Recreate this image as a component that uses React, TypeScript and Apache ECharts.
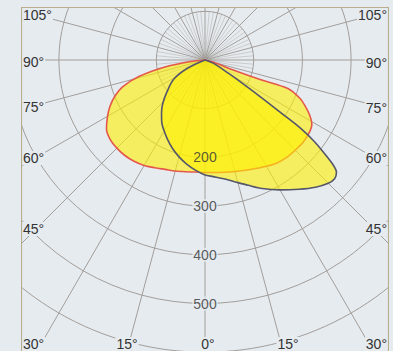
import React, { useEffect, useRef } from 'react';
import * as echarts from 'echarts';

// Curve 1 (red outline): angle in degrees from nadir (right positive), intensity in cd
const redAngles = [-90, -84, -80, -76, -72, -68, -64, -60, -55, -50, -45, -40, -35, -30, -25, -20, -15, -10, -5, 0, 5, 10, 15, 20, 25, 30, 35, 40, 45, 50, 55, 59, 62, 65, 68, 71, 70.5, 70.5, 76, 90];
const redValues = [0, 30, 85, 140, 178, 200, 217, 231, 247, 254, 256, 256, 254, 250, 244, 239, 236, 233, 231, 231, 232, 234, 237, 241, 246, 252, 258, 261, 262, 263, 261, 256, 244, 228, 210, 180, 120, 60, 17, 0];

// Curve 2 (dark outline)
const darkAngles = [-70, -65, -58.5, -50, -44, -39.6, -35, -30, -25, -20, -15, -10, -5, 0, 4, 9, 14, 19, 24, 30, 36, 41, 45, 47.5, 49.5, 50.8, 52, 53.3, 54.5, 55.2, 56.3, 57.8, 60.5, 68, 90];
const darkValues = [0, 39, 75, 102, 125, 140, 155, 168, 181, 194, 206, 217, 227, 236, 240, 247, 258, 272, 289, 308, 328, 346, 358, 361, 355, 338, 310, 280, 240, 190, 140, 95, 55, 20, 0];

const radiusLabelValues = [200, 300, 400, 500];
const leftAngleLabels = ['105°', '90°', '75°', '60°', '45°', '30°'];
const bottomAngleLabels = ['15°', '0°', '15°', '30°'];
const rightAngleLabels = ['105°', '90°', '75°', '60°', '45°'];

const BG = '#e6ebf0';
const GRID = '#a29e9a';
const FRAME = '#b8ae8e';
const TEXT = '#333333';
const FONT = '14px "Liberation Sans", Arial, sans-serif';

// layout (chart-relative pixel positions for angle labels)
const leftLabelY = [8, 55, 100, 151, 222, 337];
const bottomLabelX = [106, 187, 267, 367];
const bottomLabelAlign = ['center', 'center', 'center', 'right'];
const rightLabelY = [8, 56, 101, 151, 222];

export default function App() {
  const ref = useRef<HTMLDivElement>(null);
  useEffect(() => {
    if (!ref.current) return;
    const chart = echarts.init(ref.current, undefined, { renderer: 'svg' });

    const minorRays: number[][] = [];
    for (let a = -175; a < 180; a += 5) {
      if (a % 15 !== 0) minorRays.push([100, a]);
    }

    const labelText = (text: string, x: number, y: number, align: string) => ({
      type: 'text',
      x,
      y,
      z: 100,
      style: {
        text,
        fill: TEXT,
        font: FONT,
        align,
        verticalAlign: 'middle',
        backgroundColor: BG,
        padding: [0, 1],
      },
    });

    const graphics: any[] = [];
    leftAngleLabels.forEach((t, i) => graphics.push(labelText(t, 1, leftLabelY[i], 'left')));
    bottomAngleLabels.forEach((t, i) => graphics.push(labelText(t, bottomLabelX[i], 337, bottomLabelAlign[i])));
    rightAngleLabels.forEach((t, i) => graphics.push(labelText(t, 367, rightLabelY[i], 'right')));
    graphics.push({
      type: 'rect',
      z: 101,
      shape: { x: 0.5, y: 0.5, width: 367, height: 400 },
      style: { fill: 'none', stroke: FRAME, lineWidth: 1.2 },
    });

    const yellow = 'rgba(255,240,0,0.6)';

    chart.setOption({
      animation: false,
      backgroundColor: BG,
      polar: { center: [184, 53], radius: 800 * 0.487 },
      angleAxis: {
        type: 'value',
        min: -180,
        max: 180,
        interval: 15,
        startAngle: 90,
        clockwise: false,
        axisLine: { show: false },
        axisTick: { show: false },
        axisLabel: { show: false },
        splitLine: { show: true, lineStyle: { color: GRID, width: 1 } },
      },
      radiusAxis: {
        type: 'value',
        min: 0,
        max: 800,
        interval: 100,
        axisLine: { show: false },
        axisTick: { show: false },
        axisLabel: { show: false },
        splitLine: { show: true, lineStyle: { color: GRID, width: 1 } },
      },
      graphic: graphics,
      series: [
        {
          type: 'custom',
          coordinateSystem: 'polar',
          data: minorRays,
          silent: true,
          z: 1,
          renderItem: (params: any, api: any) => {
            const r = api.value(0);
            const a = api.value(1);
            const p0 = api.coord([0, a]);
            const p1 = api.coord([r, a]);
            return {
              type: 'line',
              shape: { x1: p0[0], y1: p0[1], x2: p1[0], y2: p1[1] },
              style: { stroke: GRID, lineWidth: 0.7, opacity: 0.6 },
            };
          },
        },
        {
          type: 'line',
          coordinateSystem: 'polar',
          data: redValues.map((v, i) => [v, redAngles[i]]),
          showSymbol: false,
          smooth: 0.3,
          z: 2,
          lineStyle: { color: '#e4584c', width: 1.6 },
          areaStyle: { color: yellow, opacity: 1 },
        },
        {
          type: 'line',
          coordinateSystem: 'polar',
          data: darkValues.map((v, i) => [v, darkAngles[i]]),
          showSymbol: false,
          smooth: 0.3,
          z: 3,
          lineStyle: { color: '#55566a', width: 1.6 },
          areaStyle: { color: yellow, opacity: 1 },
        },
        {
          type: 'scatter',
          coordinateSystem: 'polar',
          symbolSize: 0,
          z: 10,
          data: radiusLabelValues.map((v) => ({
            value: [v, 0],
            label: v === 200 ? { backgroundColor: 'transparent' } : undefined,
          })),
          label: {
            show: true,
            position: 'inside',
            formatter: (p: any) => String(p.value[0]),
            color: TEXT,
            fontSize: 14,
            fontFamily: '"Liberation Sans", Arial, sans-serif',
            backgroundColor: BG,
            padding: [0, 1],
          },
        },
      ],
    });
    return () => chart.dispose();
  }, []);

  return (
    <div style={{ position: 'absolute', left: 0, top: 0, width: 393, height: 351, background: BG, overflow: 'hidden' }}>
      <div ref={ref} style={{ position: 'absolute', left: 21, top: 7, width: 368, height: 344 }} />
    </div>
  );
}
